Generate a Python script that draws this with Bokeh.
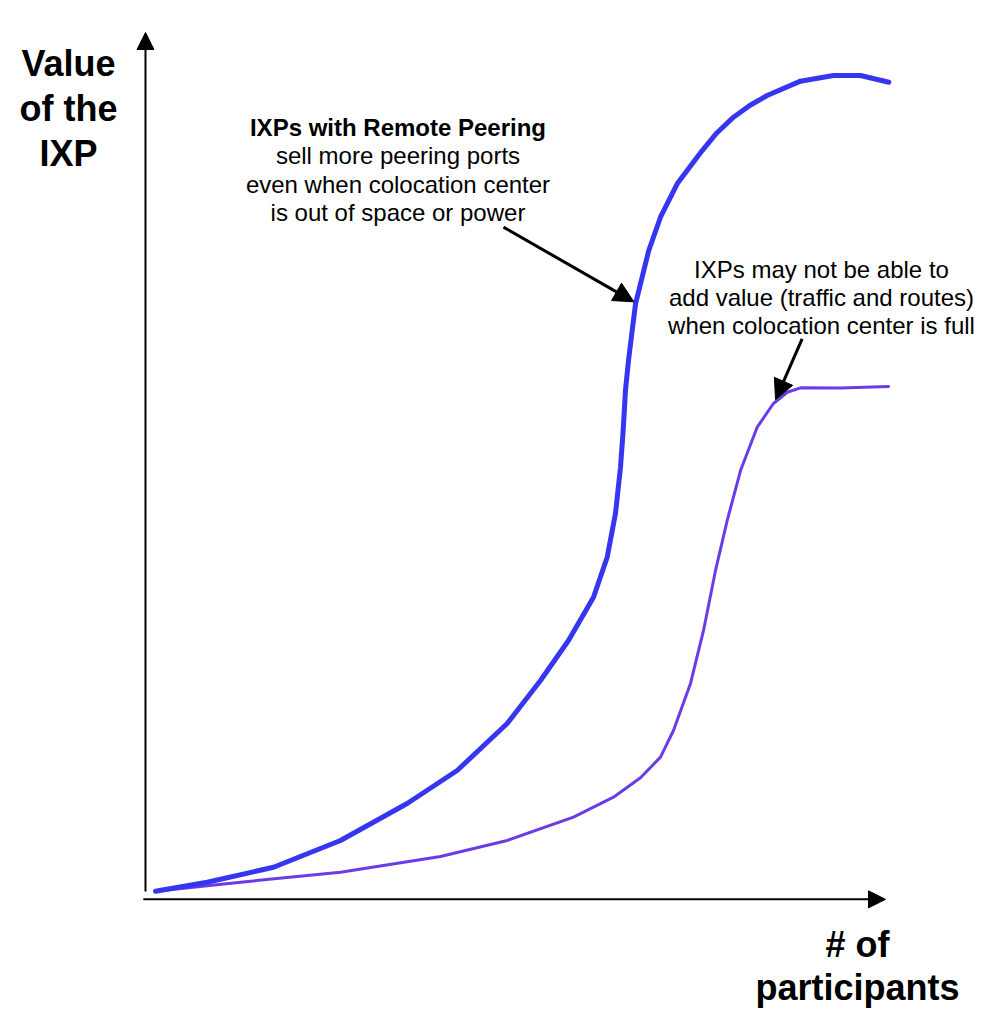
from bokeh.plotting import figure
from bokeh.models import Range1d, Arrow, NormalHead
from bokeh.core.properties import value
from bokeh.embed import file_html
from bokeh.resources import INLINE

# ---- data (conceptual units 0-100) ----
remote_x = [1.35, 8.34, 17.30, 26.35, 35.36, 42.12, 48.88, 53.38, 57.16, 60.54,
            62.39, 63.51, 64.19, 64.55, 64.86, 65.27, 65.77, 66.22, 66.89, 68.01,
            69.59, 71.85, 75.23, 77.2, 79.46, 81.7, 84.01, 88.51, 92.97, 96.62, 100.45]
remote_y = [0.84, 1.88, 3.61, 6.70, 10.97, 14.78, 20.21, 25.17, 29.79, 34.79,
            39.41, 44.46, 49.80, 54.04, 58.66, 62.12, 65.59, 68.67, 70.98, 74.83,
            78.67, 82.53, 86.37, 88.4, 90.22, 91.6, 92.73, 94.38, 95.03, 95.03, 94.26]

local_x = [1.35, 12.84, 26.35, 39.86, 48.88, 57.84, 63.24, 66.89, 69.59, 71.35,
           73.65, 75.41, 77.03, 78.61, 80.41, 82.66, 84.86, 86.72, 88.51, 93.92, 100.41]
local_y = [0.84, 1.88, 3.04, 4.85, 6.70, 9.39, 11.70, 13.94, 16.32, 19.40,
           24.83, 30.95, 37.88, 43.65, 49.42, 54.42, 57.16, 58.46, 58.97, 58.95, 59.12]

y_title = ["Value", "of the", "IXP"]
x_title = ["# of", "participants"]
note_remote = ["IXPs with Remote Peering", "sell more peering ports",
               "even when colocation center", "is out of space or power"]
note_local = ["IXPs may not be able to", "add value (traffic and routes)",
              "when colocation center is full"]

BLUE = "#3636F0"
PURPLE = "#6A3CE8"
FONT = value("Liberation Sans")

p = figure(width=1000, height=1028, output_backend="svg", toolbar_location=None,
           x_range=Range1d(-19.595, 115.541), y_range=Range1d(-15.012, 103.695),
           min_border=0)
p.axis.visible = False
p.grid.visible = False
p.outline_line_color = None
p.background_fill_color = "white"
p.border_fill_color = "white"

# axes drawn as arrows
p.add_layout(Arrow(end=NormalHead(size=17, fill_color="black", line_color="black"),
                   x_start=0, y_start=0.8, x_end=0, y_end=100,
                   line_width=2, line_color="black"))
p.add_layout(Arrow(end=NormalHead(size=17, fill_color="black", line_color="black"),
                   x_start=-0.3, y_start=-0.1, x_end=100, y_end=-0.1,
                   line_width=2, line_color="black"))

# curves
p.line(local_x, local_y, line_color=PURPLE, line_width=3, line_cap="round", line_join="round")
p.line(remote_x, remote_y, line_color=BLUE, line_width=5, line_cap="round", line_join="round")

# annotation arrows
p.add_layout(Arrow(end=NormalHead(size=20, fill_color="black", line_color="black"),
                   x_start=48.38, y_start=77.52, x_end=66.0, y_end=68.9,
                   line_width=3, line_color="black"))
p.add_layout(Arrow(end=NormalHead(size=20, fill_color="black", line_color="black"),
                   x_start=88.74, y_start=64.63, x_end=85.14, y_end=57.6,
                   line_width=3, line_color="black"))

# texts
p.text(x=[-10.41] * 3, y=[96.42, 91.22, 85.97], text=y_title,
       text_font=FONT, text_font_style="bold", text_font_size="36px",
       text_align="center", text_baseline="alphabetic", text_color="black")
p.text(x=[96.22] * 2, y=[-5.26, -10.28], text=x_title,
       text_font=FONT, text_font_style="bold", text_font_size="36px",
       text_align="center", text_baseline="alphabetic", text_color="black")
p.text(x=[34.12], y=[89.06], text=note_remote[:1],
       text_font=FONT, text_font_style="bold", text_font_size="24px",
       text_align="center", text_baseline="alphabetic", text_color="black")
p.text(x=[34.12] * 3, y=[85.77, 82.47, 79.18], text=note_remote[1:],
       text_font=FONT, text_font_size="24px",
       text_align="center", text_baseline="alphabetic", text_color="black")
p.text(x=[91.35] * 3, y=[72.69, 69.43, 66.16], text=note_local,
       text_font=FONT, text_font_size="24px",
       text_align="center", text_baseline="alphabetic", text_color="black")

open("out.html", "w").write(file_html(p, INLINE))
